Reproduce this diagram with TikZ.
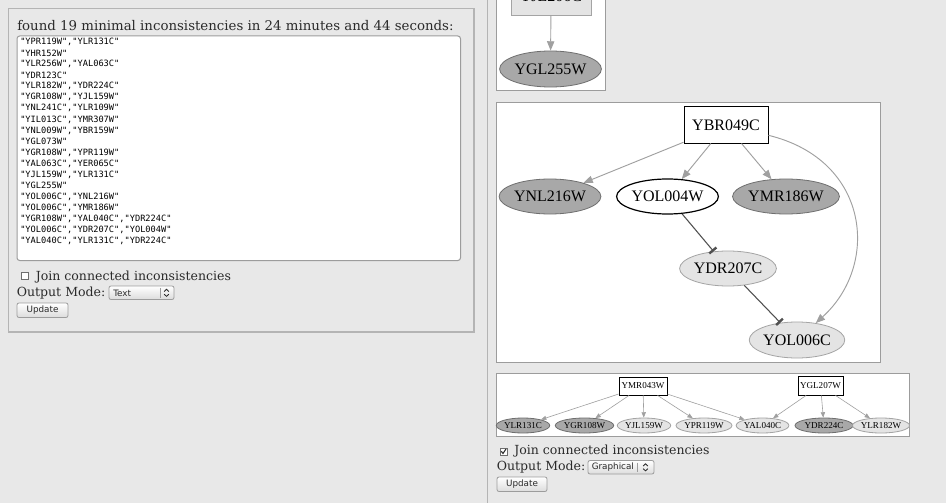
\documentclass[tikz,border=0pt]{standalone}
\usepackage{fontspec}
\setmainfont{DejaVu Serif}
\newfontfamily\gvfont{Liberation Serif}
\newfontfamily\listfont{DejaVu Sans Mono}
\newfontfamily\uifont{DejaVu Sans}
\usetikzlibrary{shapes.geometric,arrows.meta}
\definecolor{bg}{HTML}{E8E8E8}
\definecolor{panelline}{HTML}{B4B4B4}
\definecolor{boxline}{HTML}{9C9C9C}
\definecolor{darkfill}{HTML}{A8A8A8}
\definecolor{darkline}{HTML}{6E6E6E}
\definecolor{lightfill}{HTML}{E4E4E4}
\definecolor{lightline}{HTML}{A4A4A4}
\definecolor{edgegray}{HTML}{A0A0A0}
\definecolor{inhibgray}{HTML}{505050}
\definecolor{txt}{HTML}{2A2A2A}
\definecolor{btnbottom}{HTML}{DCDCDC}
\begin{document}
\begin{tikzpicture}[x=0.75pt,y=-0.75pt,
  bignode/.style={inner sep=0pt, font=\gvfont\fontsize{12}{14}\selectfont, text=black},
  smallnode/.style={inner sep=0pt, font=\gvfont\fontsize{6.8}{8}\selectfont, text=black},
  boxnode/.style={rectangle, draw=black, fill=white, line width=0.75pt},
  darknode/.style={ellipse, draw=darkline, fill=darkfill, line width=0.6pt},
  lightnode/.style={ellipse, draw=lightline, fill=lightfill, line width=0.6pt},
  whitenode/.style={ellipse, draw=black, fill=white, line width=0.9pt},
  actedge/.style={draw=edgegray, line width=0.7pt, -{Triangle[length=7pt,width=5.5pt]}},
  inhibedge/.style={draw=inhibgray, line width=0.8pt, -{Bar[width=7pt,line width=1.8pt]}},
  smalledge/.style={draw=edgegray, line width=0.45pt, -{Triangle[length=4pt,width=3.2pt]}},
  graphbox/.style={draw=boxline, fill=white, line width=0.75pt},
  uitext/.style={inner sep=0pt, text=txt, font=\fontsize{9.4}{11}\selectfont},
  widget/.style={draw=boxline, rounded corners=1.5pt, line width=0.6pt, top color=white, bottom color=btnbottom},
  btntext/.style={inner sep=0pt, text=txt, font=\uifont\fontsize{6.6}{8}\selectfont},
  listtext/.style={inner sep=0pt, anchor=west, text=black, font=\listfont\fontsize{6.5}{7.5}\selectfont},
]
\useasboundingbox (0,0) rectangle (946,503);
\fill[bg] (0,0) rectangle (946,503);

% ---------- left panel ----------
\draw[panelline, line width=0.9pt] (8.5,8.5) rectangle (474,332);
\node[uitext, anchor=base west, font=\fontsize{10}{12}\selectfont] (title) at (17,30.5) {found 19 minimal inconsistencies in 24 minutes and 44 seconds:};
\draw[boxline, fill=white, rounded corners=2pt, line width=0.75pt] (17,36) rectangle (460.5,260.5);
\foreach \t [count=\i from 0] in {
  {"YPR119W","YLR131C"},
  {"YHR152W"},
  {"YLR256W","YAL063C"},
  {"YDR123C"},
  {"YLR182W","YDR224C"},
  {"YGR108W","YJL159W"},
  {"YNL241C","YLR109W"},
  {"YIL013C","YMR307W"},
  {"YNL009W","YBR159W"},
  {"YGL073W"},
  {"YGR108W","YPR119W"},
  {"YAL063C","YER065C"},
  {"YJL159W","YLR131C"},
  {"YGL255W"},
  {"YOL006C","YNL216W"},
  {"YOL006C","YMR186W"},
  {"YGR108W","YAL040C","YDR224C"},
  {"YOL006C","YDR207C","YOL004W"},
  {"YAL040C","YLR131C","YDR224C"}}
  { \node[listtext] (line\i) at (20,42+11.06*\i) {\t}; }

\draw[darkline, fill=white, line width=0.5pt] (21,272) rectangle (28,279);
\node[uitext, anchor=west] (joinL) at (35.5,277) {Join connected inconsistencies};
\node[uitext, anchor=west] (modeL) at (16.5,293) {Output Mode:};
\draw[widget] (109,286) rectangle (174,299.5);
\draw[boxline, line width=0.5pt] (160,288) -- (160,297.5);
\node[btntext, anchor=west] (modeTextL) at (113,293) {Text};
\draw[txt, line width=0.6pt] (164.2,291.5) -- (166.5,289.3) -- (168.8,291.5) (164.2,294.2) -- (166.5,296.4) -- (168.8,294.2);
\draw[widget] (17,303) rectangle (68,317.5);
\node[btntext] (updL) at (42.5,310.3) {Update};

% ---------- right side ----------
\draw[panelline, line width=1.4pt] (487.5,0) -- (487.5,503);

% top-right graph (cut by the page edge)
\begin{scope}
\clip (0,0) rectangle (946,503);
\draw[graphbox] (496,-5) rectangle (605,91);
\node[bignode, rectangle, draw=lightline, fill=lightfill, line width=0.6pt, minimum width=60pt, minimum height=27pt, text depth=1.5pt] (topbox) at (551,-3) {YJL206C};
\end{scope}
\node[bignode, darknode, minimum width=74.25pt, minimum height=27pt] (ygl255) at (550.5,69) {YGL255W};
\draw[actedge] (topbox) -- (ygl255);

% middle graph
\draw[graphbox] (496,102.5) rectangle (880,362.5);
\node[bignode, boxnode, minimum width=63pt, minimum height=27pt] (ybr049) at (726,125) {YBR049C};
\node[bignode, darknode, minimum width=75pt, minimum height=26.25pt] (ynl216) at (550,196.5) {YNL216W};
\node[bignode, whitenode, minimum width=74.25pt, minimum height=26.25pt] (yol004) at (667.5,196.5) {YOL004W};
\node[bignode, darknode, minimum width=78pt, minimum height=26.25pt] (ymr186) at (786,196.5) {YMR186W};
\node[bignode, lightnode, minimum width=72pt, minimum height=26.25pt] (ydr207) at (728,268.5) {YDR207C};
\node[bignode, lightnode, minimum width=70.5pt, minimum height=27pt] (yol006) at (797,340) {YOL006C};
\draw[actedge] (ybr049) -- (ynl216);
\draw[actedge] (ybr049) -- (yol004);
\draw[actedge] (ybr049) -- (ymr186);
\draw[actedge] (ybr049) .. controls (870,160) and (880,265) .. (yol006);
\draw[inhibedge] (yol004) -- (ydr207);
\draw[inhibedge] (ydr207) -- (yol006);

% bottom graph
\draw[graphbox] (496,373.5) rectangle (909,436);
\node[smallnode, boxnode, line width=0.6pt, minimum width=36pt, minimum height=13.5pt] (ymr043) at (643,386) {YMR043W};
\node[smallnode, boxnode, line width=0.6pt, minimum width=33.75pt, minimum height=14.25pt] (ygl207) at (820.5,385.5) {YGL207W};
\node[smallnode, darknode, minimum width=37.5pt, minimum height=11.25pt] (ylr131) at (523,425.5) {YLR131C};
\node[smallnode, darknode, minimum width=41.25pt, minimum height=11.25pt] (ygr108) at (584.5,425.5) {YGR108W};
\node[smallnode, lightnode, minimum width=39pt, minimum height=11.25pt] (yjl159) at (644,425.5) {YJL159W};
\node[smallnode, lightnode, minimum width=42pt, minimum height=11.25pt] (ypr119) at (704,425.5) {YPR119W};
\node[smallnode, lightnode, minimum width=38.25pt, minimum height=11.25pt] (yal040) at (762.5,425.5) {YAL040C};
\node[smallnode, darknode, minimum width=43.5pt, minimum height=11.25pt] (ydr224) at (824,425.5) {YDR224C};
\node[smallnode, lightnode, minimum width=39pt, minimum height=11.25pt] (ylr182) at (881,425.5) {YLR182W};
\foreach \n in {ylr131,ygr108,yjl159,ypr119,yal040} \draw[smalledge] (ymr043) -- (\n);
\foreach \n in {yal040,ydr224,ylr182} \draw[smalledge] (ygl207) -- (\n);

% right controls
\draw[darkline, fill=white, line width=0.5pt] (500,448) rectangle (507,455);
\draw[txt, line width=0.8pt] (501.3,451.3) -- (503,453.5) -- (506,449);
\node[uitext, anchor=west] (joinR) at (514,451) {Join connected inconsistencies};
\node[uitext, anchor=west] (modeR) at (496.5,467) {Output Mode:};
\draw[widget] (588,460.5) rectangle (654,474);
\draw[boxline, line width=0.5pt] (637,462.5) -- (637,472);
\node[btntext, anchor=west] (modeTextR) at (591.5,467.3) {Graphical};
\draw[txt, line width=0.6pt] (643.2,466) -- (645.5,463.8) -- (647.8,466) (643.2,468.7) -- (645.5,470.9) -- (647.8,468.7);
\draw[widget] (497,477) rectangle (547,491.5);
\node[btntext] (updR) at (522,484.3) {Update};
\end{tikzpicture}
\end{document}
